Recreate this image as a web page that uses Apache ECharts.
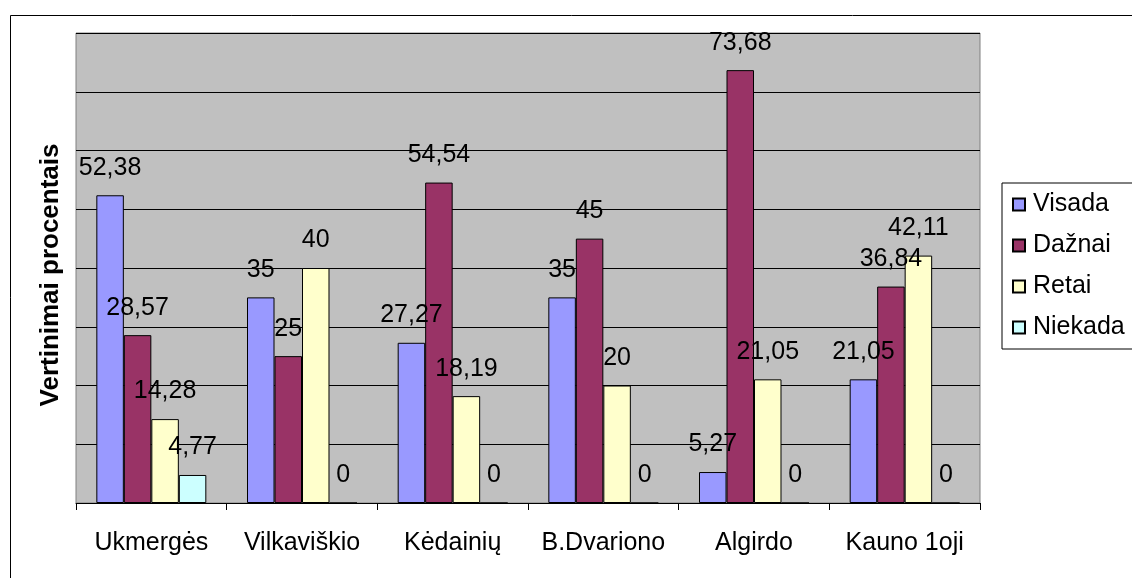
<!DOCTYPE html>
<html>
<head>
<meta charset="utf-8">
<script src="https://cdn.jsdelivr.net/npm/echarts@6/dist/echarts.min.js"></script>
<style>
  html, body { margin: 0; padding: 0; background: #fff; }
  #chart { width: 1132px; height: 578px; }
</style>
</head>
<body>
<div id="chart"></div>
<script>
// mokyklos
const categories = ['Ukmergės', 'Vilkaviškio', 'Kėdainių', 'B.Dvariono', 'Algirdo', 'Kauno 1oji'];

// atsakymai, %
const visada = [52.38, 35, 27.27, 35, 5.27, 21.05];
const daznai = [28.57, 25, 54.54, 45, 73.68, 36.84];
const retai = [14.28, 40, 18.19, 20, 21.05, 42.11];
const niekada = [4.77, 0, 0, 0, 0, 0];

const seriesNames = ['Visada', 'Dažnai', 'Retai', 'Niekada'];
const seriesData = [visada, daznai, retai, niekada];
const colors = ['#9999FF', '#993366', '#FFFFCC', '#CCFFFF'];

const font = 'Arial, "Liberation Sans", sans-serif';

const chart = echarts.init(document.getElementById('chart'));

const options = {
  animation: false,
  textStyle: { fontFamily: font },
  graphic: [
    {
      // išorinis rėmelis
      type: 'rect',
      left: 8,
      top: 13,
      shape: { width: 1200, height: 700 },
      style: { fill: 'none', stroke: '#000', lineWidth: 1 },
      silent: true
    }
  ],
  grid: {
    left: 76,
    right: 152,
    top: 33,
    bottom: 75,
    show: true,
    backgroundColor: '#C0C0C0',
    borderColor: '#808080',
    borderWidth: 1
  },
  legend: {
    orient: 'vertical',
    left: 1002,
    top: 183,
    padding: [9, 10, 9, 10],
    itemWidth: 12,
    itemHeight: 12,
    itemGap: 16,
    borderColor: '#000',
    borderWidth: 1,
    backgroundColor: '#fff',
    icon: 'rect',
    textStyle: { fontSize: 25, color: '#000', fontFamily: font, padding: [0, 0, 0, 3] },
    data: seriesNames
  },
  xAxis: {
    type: 'category',
    data: categories,
    axisLine: { lineStyle: { color: '#000', width: 1 } },
    axisTick: { show: true, interval: 0, length: 7, lineStyle: { color: '#000' } },
    axisLabel: { interval: 0, fontSize: 25, color: '#000', margin: 28, fontFamily: font }
  },
  yAxis: {
    type: 'value',
    min: 0,
    max: 80,
    interval: 10,
    name: 'Vertinimai procentais',
    nameLocation: 'middle',
    nameGap: 12,
    nameTextStyle: {
      fontSize: 26,
      fontWeight: 'bold',
      color: '#000',
      fontFamily: font,
      padding: [0, 14, 0, 0]
    },
    axisLine: { show: false },
    axisTick: { show: false },
    axisLabel: { show: false },
    splitLine: { lineStyle: { color: '#000', width: 1 } }
  },
  series: seriesData.map((d, i) => ({
    name: seriesNames[i],
    type: 'bar',
    data: d,
    barGap: '0%',
    barCategoryGap: '27%',
    itemStyle: { color: colors[i], borderColor: '#000', borderWidth: 1 },
    label: {
      show: true,
      position: 'top',
      distance: 15,
      fontSize: 25,
      color: '#000',
      fontFamily: font,
      formatter: (p) => String(p.value).replace('.', ',')
    }
  }))
};

chart.setOption(options);
</script>
</body>
</html>
